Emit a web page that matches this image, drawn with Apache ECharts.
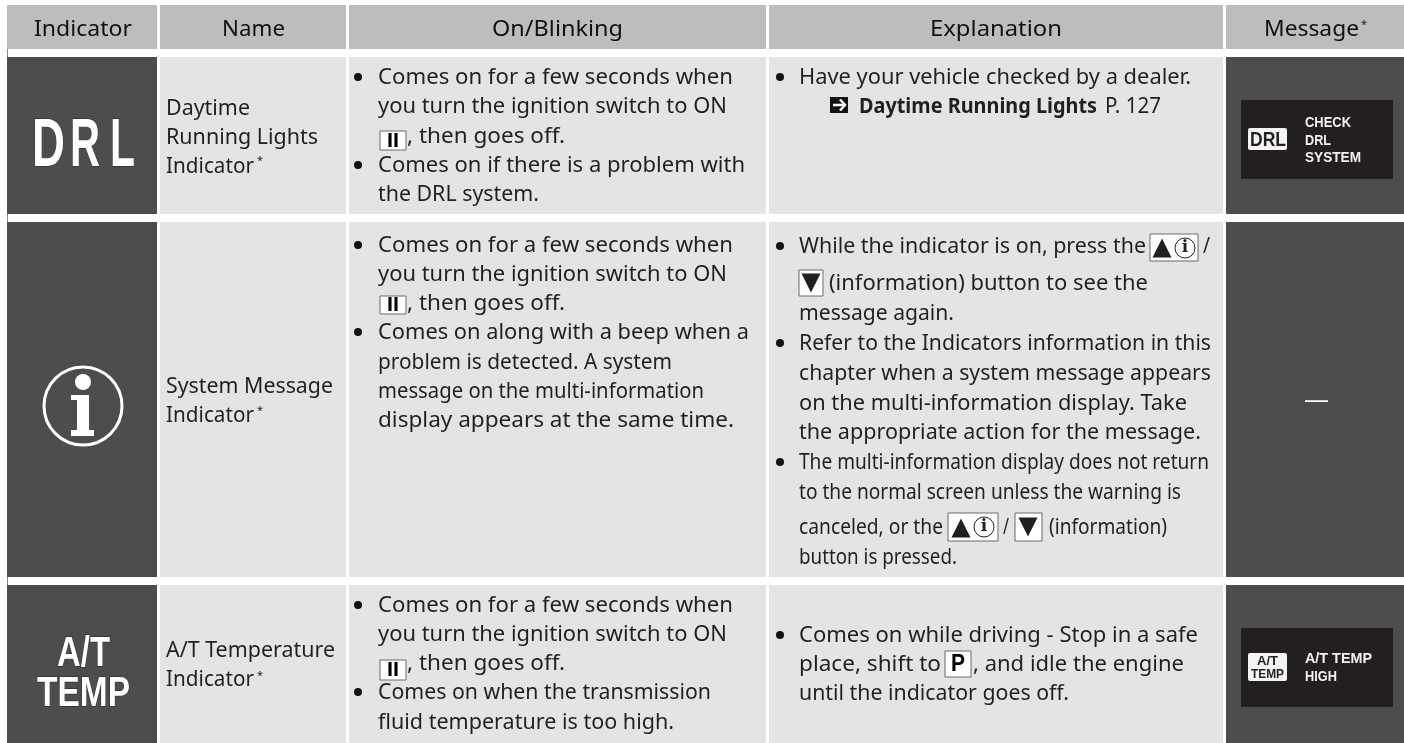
<!DOCTYPE html>
<html><head><meta charset="utf-8">
<style>html,body{margin:0;padding:0;background:#fff}#c{width:1404px;height:743px}</style>
<script src="https://cdn.jsdelivr.net/npm/echarts@6/dist/echarts.min.js"></script>
</head><body><div id="c"></div>
<script>
// ---- content ----
const columns = ['Indicator','Name','On/Blinking','Explanation','Message'];
const nameRow1 = ['Daytime','Running Lights','Indicator'];
const nameRow2 = ['System Message','Indicator'];
const nameRow3 = ['A/T Temperature','Indicator'];
const onRow1 = ['Comes on for a few seconds when','you turn the ignition switch to ON',', then goes off.','Comes on if there is a problem with','the DRL system.'];
const onRow2 = ['Comes on for a few seconds when','you turn the ignition switch to ON',', then goes off.','Comes on along with a beep when a','problem is detected. A system','message on the multi-information','display appears at the same time.'];
const onRow3 = ['Comes on for a few seconds when','you turn the ignition switch to ON',', then goes off.','Comes on when the transmission','fluid temperature is too high.'];
const expRow1 = ['Have your vehicle checked by a dealer.'];
const expRow1Link = ['Daytime Running Lights'];
const expRow1Page = ['P. 127'];
const expRow2 = ['While the indicator is on, press the','/','(information) button to see the','message again.','Refer to the Indicators information in this','chapter when a system message appears','on the multi-information display. Take','the appropriate action for the message.','The multi-information display does not return','to the normal screen unless the warning is','canceled, or the','/','(information)','button is pressed.'];
const expRow3 = ['Comes on while driving - Stop in a safe','place, shift to',', and idle the engine','until the indicator goes off.'];
const messageRow1 = ['CHECK','DRL','SYSTEM'];
const messageRow3 = ['A/T TEMP','HIGH'];
const emptyMessage = ['—'];

// ---- layout (pixel scale of the hidden axes) ----
const colEdges = [[7,157],[160,346],[349,766],[769,1223],[1226,1404]];
const rowEdges = [[5,49],[57,214],[222,577],[585,743]];
const darkCols = [0,4];
const FONT = '"Noto Sans"';
const BODY = 21.5;
const INK = '#231f20';

const texts = [];
function addText(list, xs, ys, ends, opt){
  list.forEach((t,i)=>texts.push(Object.assign({text:t,x:xs[i],y:ys[i],end:ends?ends[i]:null},opt||{})));
}
const body = {size:BODY,weight:'normal',family:FONT,fill:INK};
addText(columns,[34,222,492,930,1264],[29,29,29,29,29],[132,285,623,1062,1359],Object.assign({},body,{fill:'#111'}));
addText(['*','*','*','*'],[1361,257,257,257],[25,161,411,676],null,{size:11,weight:'normal',family:FONT,fill:INK});
addText(nameRow1,[166,166,166],[108,137,166],[250,318,254],body);
addText(nameRow2,[166,166],[386,415],[333,254],body);
addText(nameRow3,[166,166],[650,679],[335,254],body);
addText(onRow1,[378,378,407,378,378],[77,106,136,165,194],[733,727,565,745,539],body);
addText(onRow2,[378,378,407,378,378,378,378],[245,274,303,332,362,391,420],[733,727,565,749,672,704,734],body);
addText(onRow3,[378,378,407,378,378],[605,634,663,692,722],[733,727,565,711,674],body);
addText(expRow1,[799],[77],[1191],body);
addText(expRow1Link,[859],[106],[1097],Object.assign({},body,{weight:'bold'}));
addText(expRow1Page,[1105],[106],[1161],body);
addText(expRow2,[799,1203,829,799,799,799,799,799,799,799,799,1003,1049,799],
  [246,246,283,313,343,373,403,432,462,492,527,527,527,557],
  [1146,1210,1148,954,1211,1211,1187,1201,1209,1181,943,1009,1167,957],body);
addText(expRow3,[799,799,973,799],[635,664,664,693],[1198,941,1184,1069],body);
// big indicator glyphs
const bold = {weight:'bold',family:'"Liberation Sans"',fill:'#fff',stroke:'#222',lw:0.8};
addText(['D','R','L'],[32,70,110],[147,147,147],[65,100,135],Object.assign({},bold,{size:68}));
addText(['A/T','TEMP'],[57,37],[654,694],[110,130],Object.assign({},bold,{size:42}));
// message panels
const msg = {size:15.5,weight:'bold',family:'"Liberation Sans"',fill:'#f2f2f2'};
addText(messageRow1,[1305,1305,1305],[123,141,158],[1351,1331,1361],msg);
addText(messageRow3,[1305,1305],[659,677],[1372,1337],msg);
const badge = {size:15,weight:'bold',family:'"Liberation Sans"',fill:'#231f20'};
addText(['DRL'],[1250],[140],[1286],Object.assign({},badge,{size:20}));
addText(['A/T','TEMP'],[1257,1251],[661,674],[1278,1284],Object.assign({},badge,{size:13}));
addText(emptyMessage,[1304],[401],[1329],{size:22,weight:'normal',family:FONT,fill:'#fff'});
// key-cap labels
const keyLabel = {size:21,weight:'bold',family:'"Liberation Sans"',fill:'#000'};
addText(['II','II','II'],[387,387,387],[141,305.5,670.5],[399,399,399],keyLabel);
addText(['P'],[951],[664.5],[965],Object.assign({},keyLabel,{size:24}));

// bullets
const bulletPoints = [[358,77],[358,165],[358,245],[358,332],[358,605],[358,692],
  [780,77],[780,246],[780,343],[780,462],[780,635]];

// key caps [x0,y0,x1,y1]
const keyCaps = [[380,131,406,150],[380,296,406,314],[380,660,406,680],[945,651,971,677],
  [1150,234,1198,261],[799,270,823,296],[948,513,998,541],[1015,513,1042,541]];
const upTriangles = [[1162,248],[961,528]];
const downTriangles = [[811,283],[1028,527]];
const infoGlyphs = [[1185,248],[984,527]];
const panels = [[1241,100,1393,179],[1241,628,1393,707]];
const badges = [[1248,128,1287,150],[1248,653,1287,681]];
const arrowBox = [[830,97,848,113]];
const infoRing = [[83,406]];
const seams = [[7,49,8,57],[7,214,8,222],[7,577,8,585]];

// ---- helpers ----
const ctx = document.createElement('canvas').getContext('2d');
function fontOf(t){return `${t.weight} ${t.size}px ${t.family}`;}
function scaleOf(t){
  if(t.end==null) return 1;
  ctx.font = fontOf(t);
  return (t.end-t.x)/ctx.measureText(t.text).width;
}
function rectOf(api,b){
  const a = api.coord([b[0],b[1]]), c = api.coord([b[2],b[3]]);
  return {x:a[0],y:a[1],width:c[0]-a[0],height:c[1]-a[1]};
}
const cells = [];
rowEdges.forEach((r,ri)=>colEdges.forEach((c,ci)=>cells.push([c[0],r[0],c[1],r[1],ci,ri])));

function tri(cx,cy,up){
  const w=9.5,h=9.5;
  return up?[[cx-w,cy+h],[cx+w,cy+h],[cx,cy-h]]:[[cx-w,cy-h],[cx+w,cy-h],[cx,cy+h]];
}
const chart = echarts.init(document.getElementById('c'),null,{renderer:'canvas'});
chart.setOption({
  animation:false, backgroundColor:'#fff',
  grid:{left:0,right:0,top:0,bottom:0},
  xAxis:{type:'value',min:0,max:1404,show:false},
  yAxis:{type:'value',min:0,max:743,inverse:true,show:false},
  series:[
    {type:'custom',silent:true,z:1,data:cells,encode:{x:[0,2],y:[1,3]},
      renderItem:(p,api)=>{
        const d=cells[p.dataIndex];
        const fill = d[5]===0?'#bdbdbd':(darkCols.includes(d[4])?'#4d4d4d':'#e4e4e4');
        return {type:'rect',shape:rectOf(api,d),style:{fill}};
      }},
    {type:'custom',silent:true,z:2,data:seams,encode:{x:[0,2],y:[1,3]},
      renderItem:(p,api)=>({type:'rect',shape:rectOf(api,seams[p.dataIndex]),style:{fill:'#8a8a8a'}})},
    {type:'custom',silent:true,z:2,data:panels,encode:{x:[0,2],y:[1,3]},
      renderItem:(p,api)=>({type:'rect',shape:rectOf(api,panels[p.dataIndex]),style:{fill:'#231f20'}})},
    {type:'custom',silent:true,z:3,data:badges,encode:{x:[0,2],y:[1,3]},
      renderItem:(p,api)=>{const s=rectOf(api,badges[p.dataIndex]);s.r=2;return {type:'rect',shape:s,style:{fill:'#f4f4f4'}};}},
    {type:'custom',silent:true,z:3,data:keyCaps,encode:{x:[0,2],y:[1,3]},
      renderItem:(p,api)=>({type:'rect',shape:rectOf(api,keyCaps[p.dataIndex]),style:{fill:'#fff',stroke:'#6b6b6b',lineWidth:1}})},
    {type:'custom',silent:true,z:4,data:upTriangles,encode:{x:0,y:1},
      renderItem:(p,api)=>{const c=api.coord(upTriangles[p.dataIndex]);return {type:'polygon',shape:{points:tri(c[0],c[1],true)},style:{fill:'#231f20'}};}},
    {type:'custom',silent:true,z:4,data:downTriangles,encode:{x:0,y:1},
      renderItem:(p,api)=>{const c=api.coord(downTriangles[p.dataIndex]);return {type:'polygon',shape:{points:tri(c[0],c[1],false)},style:{fill:'#231f20'}};}},
    {type:'custom',silent:true,z:4,data:infoGlyphs,encode:{x:0,y:1},
      renderItem:(p,api)=>{const c=api.coord(infoGlyphs[p.dataIndex]);
        return {type:'group',children:[
          {type:'circle',shape:{cx:c[0],cy:c[1],r:10},style:{fill:'#fff',stroke:'#231f20',lineWidth:1}},
          {type:'text',x:c[0],y:c[1],style:{text:'i',font:'bold 17px "DejaVu Serif"',fill:'#231f20',align:'center',verticalAlign:'middle'}}
        ]};}},
    {type:'custom',silent:true,z:4,data:arrowBox,encode:{x:[0,2],y:[1,3]},
      renderItem:(p,api)=>{const s=rectOf(api,arrowBox[p.dataIndex]);const x=s.x,y=s.y,w=s.width,h=s.height;
        return {type:'group',children:[
          {type:'rect',shape:s,style:{fill:'#111'}},
          {type:'polyline',shape:{points:[[x+3,y+h/2],[x+w-3,y+h/2]]},style:{stroke:'#fff',lineWidth:2.5,fill:null}},
          {type:'polyline',shape:{points:[[x+w/2+1,y+2.5],[x+w-3,y+h/2],[x+w/2+1,y+h-2.5]]},style:{stroke:'#fff',lineWidth:2.5,fill:null}}
        ]};}},
    {type:'custom',silent:true,z:3,data:infoRing,encode:{x:0,y:1},
      renderItem:(p,api)=>{const c=api.coord(infoRing[p.dataIndex]);const x=c[0],y=c[1];
        return {type:'group',children:[
          {type:'circle',shape:{cx:x,cy:y,r:39},style:{fill:'none',stroke:'#fff',lineWidth:3}},
          {type:'circle',shape:{cx:x,cy:y-24,r:8},style:{fill:'#fff'}},
          {type:'polygon',shape:{points:[[x-12,y-11],[x+6,y-11],[x+6,y+24],[x+11,y+24],[x+11,y+30],[x-12,y+30],[x-12,y+24],[x-6,y+24],[x-6,y-6],[x-12,y-6]]},style:{fill:'#fff'}}
        ]};}},
    {type:'scatter',silent:true,z:3,symbol:'circle',symbolSize:8,data:bulletPoints,itemStyle:{color:'#111',opacity:1}},
    {type:'custom',silent:true,z:5,data:texts.map(t=>[t.x,t.y]),encode:{x:0,y:1},
      renderItem:(p,api)=>{
        const t=texts[p.dataIndex], c=api.coord([t.x,t.y+(t.size===BODY?1:0)]);
        return {type:'text',x:c[0],y:c[1],scaleX:scaleOf(t),originX:0,originY:0,
          style:{text:t.text,font:fontOf(t),fill:t.fill,align:'left',verticalAlign:'middle',
            stroke:t.stroke||null,lineWidth:t.lw||0}};
      }}
  ]
});
</script></body></html>
